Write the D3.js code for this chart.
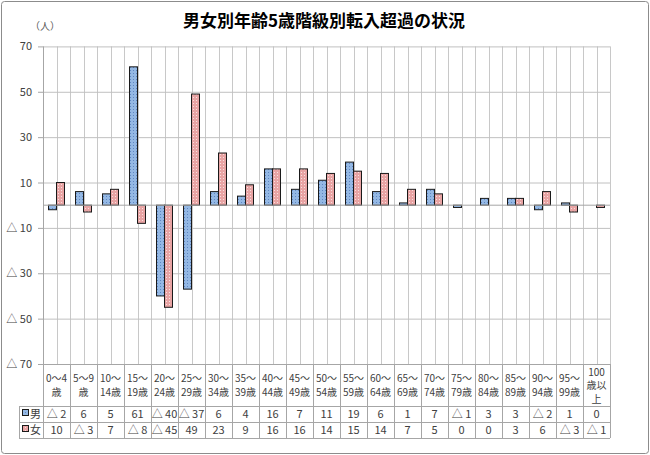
<!DOCTYPE html>
<meta charset="utf-8">
<title>転入超過</title>
<style>
    body { margin: 0; background: #fff; }
    text { font-family: "Noto Sans CJK JP", sans-serif; }
    .tick text, .cell { font-size: 11px; fill: #404040; }
    .head { font-size: 10px; fill: #404040; }
</style>

<body>
    <script src="https://d3js.org/d3.v7.min.js" charset="utf-8"></script>
    <script>
        var categories = [
            ["0～4", "歳"], ["5～9", "歳"], ["10～", "14歳"], ["15～", "19歳"], ["20～", "24歳"],
            ["25～", "29歳"], ["30～", "34歳"], ["35～", "39歳"], ["40～", "44歳"], ["45～", "49歳"],
            ["50～", "54歳"], ["55～", "59歳"], ["60～", "64歳"], ["65～", "69歳"], ["70～", "74歳"],
            ["75～", "79歳"], ["80～", "84歳"], ["85～", "89歳"], ["90～", "94歳"], ["95～", "99歳"],
            ["100", "歳以", "上"]
        ];
        var male = [-2, 6, 5, 61, -40, -37, 6, 4, 16, 7, 11, 19, 6, 1, 7, -1, 3, 3, -2, 1, 0];
        var female = [10, -3, 7, -8, -45, 49, 23, 9, 16, 16, 14, 15, 14, 7, 5, 0, 0, 3, 6, -3, -1];
        var yTicks = [70, 50, 30, 10, -10, -30, -50, -70];
        var seriesNames = ["男", "女"];

        var width = 650,
            height = 455;
        var plotLeft = 43, plotRight = 610, plotTop = 46.4, plotBottom = 364;
        var rowH = [364, 406, 422, 438];

        function fmt(v) {
            return v < 0 ? "△ " + (-v) : String(v);
        }

        var svg = d3.select("body").append("svg")
            .attr("width", width)
            .attr("height", height);

        // patterns for bars
        var defs = svg.append("defs");
        function pattern(id, base, dot) {
            var p = defs.append("pattern")
                .attr("id", id)
                .attr("width", 3).attr("height", 3)
                .attr("patternUnits", "userSpaceOnUse");
            p.append("rect").attr("width", 3).attr("height", 3).attr("fill", base);
            p.append("rect").attr("x", 1).attr("y", 1).attr("width", 1).attr("height", 1).attr("fill", dot);
        }
        pattern("pMale", "#94b8e4", "#5f86c2");
        pattern("pFemale", "#e8a4a4", "#f8e0e0");

        svg.append("rect")
            .attr("x", 1.5).attr("y", 1.5)
            .attr("width", width - 3).attr("height", height - 3)
            .attr("rx", 3)
            .attr("fill", "#fff")
            .attr("stroke", "#8c8c8c");

        svg.append("text")
            .attr("x", 324)
            .attr("y", 27)
            .attr("text-anchor", "middle")
            .style("font-size", "17px")
            .style("font-weight", "bold")
            .style("fill", "#000")
            .text("男女別年齢5歳階級別転入超過の状況");

        svg.append("text")
            .attr("x", 30)
            .attr("y", 30)
            .style("font-size", "10px")
            .style("fill", "#595959")
            .text("（人）");

        var x = d3.scaleBand()
            .domain(d3.range(categories.length))
            .range([plotLeft, plotRight]);
        var bw = x.bandwidth();
        var y = d3.scaleLinear()
            .domain([-70, 70])
            .range([plotBottom, plotTop]);

        // vertical gridlines (category boundaries and centres)
        var vlines = [];
        categories.forEach(function (c, i) {
            vlines.push(x(i) + bw / 2);
            if (i > 0) vlines.push(x(i));
        });
        vlines.push(plotRight);
        svg.append("g").selectAll("line")
            .data(vlines)
            .join("line")
            .attr("x1", d => Math.round(d) + 0.5).attr("x2", d => Math.round(d) + 0.5)
            .attr("y1", plotTop).attr("y2", plotBottom)
            .attr("stroke", "#c8c8c8");

        // y axis
        var yAxis = svg.append("g")
            .attr("transform", "translate(" + plotLeft + ",0)")
            .call(d3.axisLeft(y).tickValues(yTicks).tickFormat(fmt).tickSize(5).tickPadding(6));
        yAxis.select(".domain").remove();
        yAxis.selectAll(".tick line").attr("stroke", "#a6a6a6");
        yAxis.selectAll(".tick").append("line")
            .attr("x2", plotRight - plotLeft)
            .attr("stroke", "#c0c0c0");

        svg.append("line")
            .attr("x1", plotLeft + 0.5).attr("x2", plotLeft + 0.5)
            .attr("y1", plotTop).attr("y2", rowH[3])
            .attr("stroke", "#a6a6a6");

        // bars
        var bar = 8;
        function drawBars(values, offset, fill) {
            svg.append("g").selectAll("rect")
                .data(values)
                .join("rect")
                .attr("x", (d, i) => x(i) + bw / 2 + offset)
                .attr("y", d => y(Math.max(0, d)))
                .attr("width", bar)
                .attr("height", d => Math.abs(y(d) - y(0)))
                .attr("fill", fill)
                .attr("stroke", "#1a1a1a")
                .attr("stroke-width", 1);
        }
        drawBars(male, -bar, "url(#pMale)");
        drawBars(female, 0, "url(#pFemale)");

        // zero line
        svg.append("line")
            .attr("x1", plotLeft).attr("x2", plotRight)
            .attr("y1", y(0)).attr("y2", y(0))
            .attr("stroke", "#a6a6a6");

        // data table
        var table = svg.append("g");
        table.selectAll(".hl")
            .data(rowH)
            .join("line")
            .attr("x1", (d, i) => i === 0 ? plotLeft : 19)
            .attr("x2", plotRight)
            .attr("y1", d => d + 0.5).attr("y2", d => d + 0.5)
            .attr("stroke", "#a6a6a6");
        table.selectAll(".vl")
            .data(d3.range(categories.length + 1))
            .join("line")
            .attr("x1", d => Math.round(plotLeft + d * bw) + 0.5)
            .attr("x2", d => Math.round(plotLeft + d * bw) + 0.5)
            .attr("y1", rowH[0]).attr("y2", rowH[3])
            .attr("stroke", "#a6a6a6");
        table.append("line")
            .attr("x1", 19.5).attr("x2", 19.5)
            .attr("y1", rowH[1]).attr("y2", rowH[3])
            .attr("stroke", "#a6a6a6");

        categories.forEach(function (c, i) {
            var cx = x(i) + bw / 2;
            var n = c.length;
            var mid = (rowH[0] + rowH[1]) / 2;
            var step = n > 2 ? 13.5 : 14.5;
            c.forEach(function (s, j) {
                table.append("text")
                    .attr("class", "head")
                    .attr("x", cx)
                    .attr("y", mid + (j - (n - 1) / 2) * step + 4)
                    .attr("text-anchor", "middle")
                    .text(s);
            });
        });

        [male, female].forEach(function (vals, r) {
            var cy = (rowH[r + 1] + rowH[r + 2]) / 2 + 4;
            table.append("g").selectAll("text")
                .data(vals)
                .join("text")
                .attr("class", "cell")
                .attr("x", (d, i) => x(i) + bw / 2)
                .attr("y", cy)
                .attr("text-anchor", "middle")
                .text(fmt);
            table.append("rect")
                .attr("x", 22.5).attr("y", cy - 8.5)
                .attr("width", 6).attr("height", 6)
                .attr("fill", r === 0 ? "url(#pMale)" : "url(#pFemale)")
                .attr("stroke", "#1a1a1a");
            table.append("text")
                .attr("class", "cell")
                .attr("x", 30)
                .attr("y", cy)
                .text(seriesNames[r]);
        });
    </script>
